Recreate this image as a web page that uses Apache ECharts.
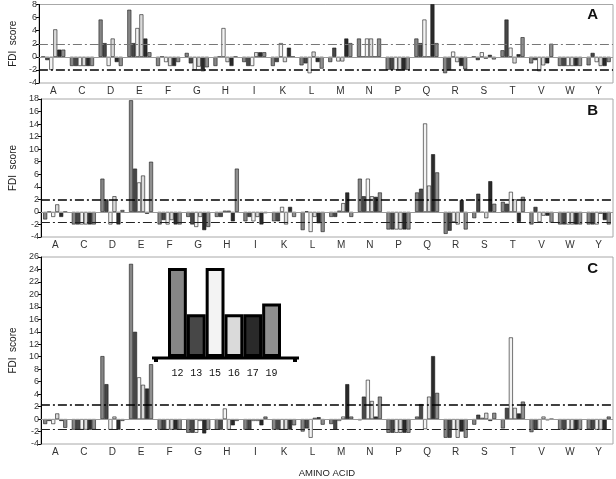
<!DOCTYPE html>
<html><head><meta charset="utf-8">
<script src="https://cdn.jsdelivr.net/npm/echarts@6/dist/echarts.min.js"></script>
<style>html,body{margin:0;padding:0;background:#fff}#c{width:616px;height:479px}</style>
</head><body><div id="c"></div>
<script>
// ---------- data ----------
const aminoAcids = ['A','C','D','E','F','G','H','I','K','L','M','N','P','Q','R','S','T','V','W','Y'];
const positions = ['12','13','15','16','17','19'];

// Panel A (FDI score by position)
const A12 = [0, -1.4, 5.7, 7.2, -1.4, 0.6, -1.4, -0.8, -1.4, -1.3, -0.8, 2.8, -2, 2.8, -2.5, 0, 1.0, -1.0, -1.4, -1.3];
const A13 = [-0.5, -1.4, 2.1, 2.1, 0, -1.0, 0, -1.4, -0.8, -1.0, 1.4, 0, -2, 2.1, -2.0, -0.5, 5.7, -0.5, -1.4, 0.6];
const A15 = [-2, -1.4, -1.4, 4.4, -0.8, -2.0, 4.4, -1.4, 2.1, -2.5, -0.7, 2.8, -2, 5.7, 0.8, 0.7, 1.4, -2.2, -1.4, -0.8];
const A16 = [4.2, -1.4, 2.8, 6.5, -1.4, -1.5, -0.8, 0.7, -0.8, 0.8, -0.7, 2.8, -2, 0, -0.8, -0.3, -1.0, -1.3, -1.4, -1.4];
const A17 = [1.1, -1.4, -0.8, 2.8, -1.4, -2.2, -1.4, 0.7, 1.4, -0.8, 2.8, 0, -2, 8.2, -1.4, 0.3, 0.4, -1.0, -1.4, -1.4];
const A19 = [1.1, -1.4, -1.4, 0.7, -0.8, -1.6, 0, 0.7, 0, -1.8, 2.1, 2.8, -2, 2.1, -1.9, -0.4, 3.0, 2.0, -1.4, -0.8];

// Panel B
const B12 = [-1.2, -2, 5.3, 17.8, -2, -0.8, -0.8, -1.5, -1.5, -2.9, -0.8, 5.3, -2.8, 3.1, -3.5, -1.0, 1.6, -2.0, -2, -2];
const B13 = [0, -2, 2.0, 6.9, -1.3, -2.0, -0.8, -0.8, -1.5, 0.1, -0.8, 2.5, -2.8, 3.7, -3.0, 2.9, 1.3, 0.8, -2, -2];
const B15 = [-0.8, -2, -2.0, 4.7, -2, -2.4, 0.2, -1.5, 0.8, -3.2, 0.2, 5.3, -2.8, 14.1, -1.6, -0.1, 3.2, -1.6, -2, -2];
const B16 = [1.2, -2, 2.5, 5.8, -1.3, -0.8, 0.2, -0.8, -2.0, -0.8, 1.4, 2.5, -2.8, 4.2, -2.0, -1.0, 2.0, -0.6, -2, -0.3];
const B17 = [-0.8, -2, -2.0, -0.3, -2, -2.9, -1.5, -2.0, 0.8, -1.8, 3.1, 2.4, -2.8, 9.2, 1.9, 4.9, -1.6, -0.6, -2, -1.3];
const B19 = [0, -2, 0.3, 8.0, -2, -2.4, 6.9, -0.2, -0.8, -3.2, -0.8, 3.1, -2.8, 6.3, -2.8, 1.3, 2.4, -1.7, -2, -2];

// Panel C
const C12 = [-0.8, -1.7, 10.1, 24.9, -1.7, -2.2, -1.7, -1.7, -1.7, -2.0, -0.8, -0.2, -2.2, 0.4, -3.0, -0.9, -1.5, -2.1, -1.7, -1.6];
const C13 = [-0.3, -1.7, 5.6, 14.0, -1.7, -2.2, -1.7, -1.7, -1.7, -1.5, -1.7, 3.6, -2.2, 2.4, -3.0, 0.7, 1.8, -1.7, -1.7, -1.6];
const C15 = [-0.8, -1.7, -1.7, 6.7, -1.7, -2.2, 1.7, -0.3, -1.7, -3.0, -0.3, 6.3, -2.2, -1.6, -1.7, 0.2, 13.1, -1.7, -1.7, -1.7];
const C16 = [0.9, -1.7, 0.4, 5.5, -1.7, -0.3, -1.7, -0.3, -1.7, 0.2, 0.4, 2.9, -2.2, 3.6, -3.0, 1.0, 1.8, 0.4, -1.7, -1.7];
const C17 = [-0.3, -1.7, -1.7, 4.9, -1.7, -2.3, -1.0, -1.0, -1.7, 0.3, 5.6, 0.4, -2.2, 10.1, -2.0, -0.3, 0.9, -0.2, -1.7, -1.7];
const C19 = [-1.4, -1.7, -0.3, 8.8, -1.7, -1.7, -0.3, 0.4, -1.0, -0.9, 0.4, 3.6, -2.2, 4.2, -3.0, 1.0, 2.8, 0, -1.7, 0.4];

// y-axis ranges per panel
const yMin = [-4, -4, -4];
const yMax = [8, 18, 26];
// threshold lines per panel
const upperThreshold = [2, 2, 2.3];
const lowerThreshold = [-2, -1.7, -1.7];
const panelLetters = ['A', 'B', 'C'];

// inset legend bar heights (relative)
const legendHeights = [10, 4.8, 10, 4.8, 4.8, 6];

// ---------- styles ----------
const posColors = ['#868686', '#474747', '#f3f3f3', '#dadada', '#2a2a2a', '#8f8f8f'];
const FONT = 'Liberation Sans, Arial, sans-serif';
const panels = [[A12, A13, A15, A16, A17, A19], [B12, B13, B15, B16, B17, B19], [C12, C13, C15, C16, C17, C19]];
const gridBoxes = [{ top: 3, height: 80 }, { top: 99, height: 138 }, { top: 257, height: 193 }];
const upperStyle = [
  { color: '#777', width: 1 },
  { color: '#000', width: 1.6 },
  { color: '#000', width: 1.6 }
];
const lowerStyle = [
  { color: '#000', width: 1.6 },
  { color: '#222', width: 1 },
  { color: '#222', width: 1 }
];
const dashDot = [9, 3, 2, 3];

const grid = [], xAxis = [], yAxis = [], series = [], title = [];
panels.forEach((pdata, p) => {
  grid.push({ left: 31, right: 3, top: gridBoxes[p].top, height: gridBoxes[p].height, show: true, borderColor: '#a8a8a8', borderWidth: 1 });
  xAxis.push({
    type: 'category', gridIndex: p, data: aminoAcids,
    axisLine: { show: false }, axisTick: { show: false },
    axisLabel: { fontSize: 10, color: '#333', fontFamily: FONT, margin: 3 },
    name: p === 2 ? 'AMINO ACID' : '', nameLocation: 'middle', nameGap: 24,
    nameTextStyle: { fontSize: 9.5, color: '#222', fontFamily: FONT }
  });
  yAxis.push({
    type: 'value', gridIndex: p, min: yMin[p], max: yMax[p], interval: 2,
    axisLine: { show: true, lineStyle: { color: '#000', width: 1 } },
    axisTick: { show: true, length: 3, lineStyle: { color: '#000' } },
    axisLabel: { fontSize: 9, color: '#333', fontFamily: FONT, margin: 2 },
    splitLine: { show: false },
    name: 'FDI  score', nameLocation: 'middle', nameGap: 17,
    nameTextStyle: { fontSize: 10, color: '#222', fontFamily: FONT }
  });
  pdata.forEach((vals, k) => {
    const s = {
      type: 'bar', name: positions[k], xAxisIndex: p, yAxisIndex: p, data: vals,
      barGap: '0%', barCategoryGap: '16%',
      itemStyle: { color: posColors[k], borderColor: '#1a1a1a', borderWidth: 0.6 },
      silent: true
    };
    if (k === 0) {
      s.markLine = {
        silent: true, symbol: 'none', label: { show: false },
        data: [
          { yAxis: 0, lineStyle: { color: '#9a9a9a', width: 1, type: 'solid' } },
          { yAxis: upperThreshold[p], lineStyle: { color: upperStyle[p].color, width: upperStyle[p].width, type: dashDot } },
          { yAxis: lowerThreshold[p], lineStyle: { color: lowerStyle[p].color, width: lowerStyle[p].width, type: dashDot } }
        ]
      };
    }
    series.push(s);
  });
  title.push({
    text: panelLetters[p], right: 18, top: gridBoxes[p].top + 4, padding: 0,
    textStyle: { fontSize: 15, fontWeight: 'bold', color: '#111', fontFamily: FONT }
  });
});

// inset legend
grid.push({ left: 168, top: 268, width: 113, height: 89, show: false });
xAxis.push({
  type: 'category', gridIndex: 3, data: positions,
  axisLine: { show: false }, axisTick: { show: false },
  axisLabel: { fontSize: 10, color: '#111', fontFamily: 'Liberation Mono, monospace', margin: 11 }
});
yAxis.push({ type: 'value', gridIndex: 3, min: 0, max: 10, show: false });
series.push({
  type: 'bar', xAxisIndex: 3, yAxisIndex: 3, barCategoryGap: '0%', silent: true, z: 5,
  data: legendHeights.map((v, i) => ({ value: v, itemStyle: { color: posColors[i] } })),
  itemStyle: { borderColor: '#000', borderWidth: 3 }
});

const chart = echarts.init(document.getElementById('c'), null, { renderer: 'canvas' });
chart.setOption({
  animation: false,
  backgroundColor: '#fff',
  textStyle: { fontFamily: FONT },
  title, grid, xAxis, yAxis, series,
  graphic: [
    { type: 'line', shape: { x1: 152, y1: 358, x2: 299, y2: 358 }, style: { stroke: '#000', lineWidth: 3 }, z: 10 },
    { type: 'rect', shape: { x: 154, y: 358, width: 4, height: 4 }, style: { fill: '#000' }, z: 10 },
    { type: 'rect', shape: { x: 293, y: 358, width: 4, height: 4 }, style: { fill: '#000' }, z: 10 }
  ]
});
</script>
</body></html>
